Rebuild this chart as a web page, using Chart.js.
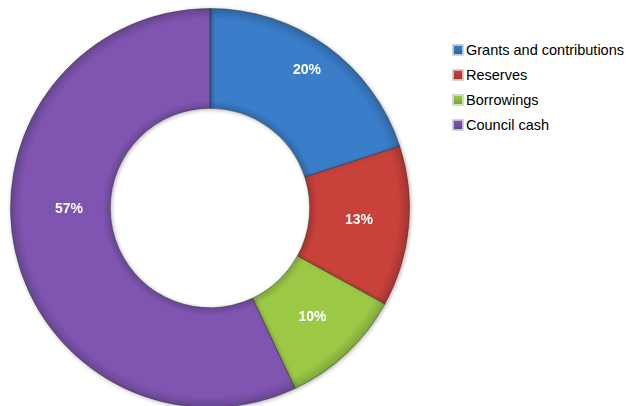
<!DOCTYPE html>
<html>
<head>
<meta charset="utf-8">
<script src="https://cdn.jsdelivr.net/npm/chart.js@4/dist/chart.umd.min.js"></script>
<style>
    html, body { margin: 0; padding: 0; background: #fff; }
    #wrap { position: relative; width: 628px; height: 406px; overflow: hidden; }
    #chartBox { position: absolute; left: 0; top: 0; width: 420px; height: 416px; }
    #legend { position: absolute; left: 453px; top: 42px; margin: 0; padding: 0; list-style: none;
              font-family: "Liberation Sans", Arial, sans-serif; font-size: 14.5px; color: #000; }
    #legend li { height: 25px; line-height: 17px; white-space: nowrap; }
    #legend .box { display: inline-block; width: 8px; height: 8px; margin-right: 3px; vertical-align: 0px;
                   border: 1px solid rgba(255,255,255,0.6); box-shadow: 0 0 0 0.5px rgba(0,0,0,0.35); }
</style>
</head>
<body>
<div id="wrap">
    <div id="chartBox"><canvas id="fundChart"></canvas></div>
    <ul id="legend"></ul>
</div>
<script>
const categories = ['Grants and contributions', 'Reserves', 'Borrowings', 'Council cash'];
const shares = [20, 13, 10, 57];
const sliceColors = ['#3A7DC9', '#C9413B', '#9BC946', '#7F55B1'];

// darken a hex colour a bit for the rim of each slice
const shade = (hex, f) => {
    const n = parseInt(hex.slice(1), 16);
    const r = Math.round(((n >> 16) & 255) * f), g = Math.round(((n >> 8) & 255) * f), b = Math.round((n & 255) * f);
    return 'rgb(' + r + ',' + g + ',' + b + ')';
};

const ringFill = (context) => {
    const chart = context.chart;
    const area = chart.chartArea;
    const base = sliceColors[context.dataIndex];
    if (!area) return base;
    const cx = (area.left + area.right) / 2, cy = (area.top + area.bottom) / 2;
    const r = Math.min(area.width, area.height) / 2;
    const g = chart.ctx.createRadialGradient(cx, cy, r * 0.5, cx, cy, r);
    g.addColorStop(0, shade(base, 0.85));
    g.addColorStop(0.08, base);
    g.addColorStop(0.88, base);
    g.addColorStop(1, shade(base, 0.82));
    return g;
};

// soft shadow under the ring
const ringShadow = {
    id: 'ringShadow',
    beforeDatasetsDraw(chart) {
        const ctx = chart.ctx;
        ctx.save();
        ctx.shadowColor = 'rgba(0,0,0,0.3)';
        ctx.shadowBlur = 4;
        ctx.shadowOffsetX = 1;
        ctx.shadowOffsetY = 1;
    },
    afterDatasetsDraw(chart) {
        chart.ctx.restore();
    }
};

// percentage text on each slice
const sliceLabels = {
    id: 'sliceLabels',
    afterDatasetsDraw(chart, args, opts) {
        const ctx = chart.ctx;
        const meta = chart.getDatasetMeta(0);
        ctx.save();
        ctx.font = 'bold 14px "Liberation Sans", Arial, sans-serif';
        ctx.fillStyle = '#fff';
        ctx.textAlign = 'center';
        ctx.textBaseline = 'middle';
        meta.data.forEach((arc, i) => {
            const p = arc.tooltipPosition();
            const s = opts.shift[i] || [0, 0];
            ctx.fillText(shares[i] + '%', p.x + s[0], p.y + s[1]);
        });
        ctx.restore();
    }
};

const ctx = document.getElementById('fundChart').getContext('2d');
const fundChart = new Chart(ctx, {
    type: 'doughnut',
    data: {
        labels: categories,
        datasets: [{
            data: shares,
            backgroundColor: ringFill,
            borderColor: 'rgba(40,40,40,0.45)',
            borderWidth: 1
        }]
    },
    options: {
        responsive: true,
        maintainAspectRatio: false,
        animation: false,
        cutout: '50%',
        layout: { padding: { left: 10, right: 10, top: 8, bottom: 8 } },
        plugins: {
            legend: { display: false },
            tooltip: { enabled: false },
            sliceLabels: { shift: [[9, -17], [0, -2], [0, 0], [5, -31]] }
        }
    },
    plugins: [ringShadow, sliceLabels]
});

// html legend built from the chart's own labels
const legendEl = document.getElementById('legend');
categories.forEach((name, i) => {
    const li = document.createElement('li');
    const box = document.createElement('span');
    box.className = 'box';
    box.style.background = 'linear-gradient(' + sliceColors[i] + ',' + shade(sliceColors[i], 0.8) + ')';
    li.appendChild(box);
    li.appendChild(document.createTextNode(name));
    legendEl.appendChild(li);
});
</script>
</body>
</html>
